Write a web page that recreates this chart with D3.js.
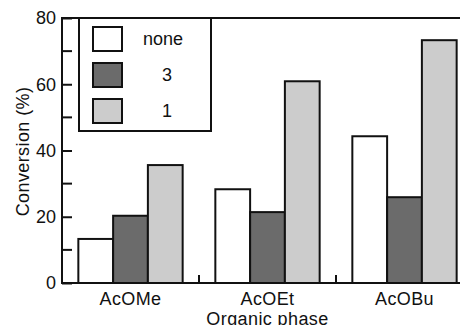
<!DOCTYPE html>
<html>
<head>
<meta charset="utf-8">
<script src="https://cdn.jsdelivr.net/npm/d3@7"></script>
<style>
  body { margin: 0; background: #fff; }
  svg { display: block; font-family: "Liberation Sans", Arial, sans-serif; }
</style>
</head>
<body>
<div id="chart"></div>
<script>
var phases = ["AcOMe", "AcOEt", "AcOBu"];
var seriesNames = ["none", "3", "1"];
var noneValues = [13.3, 28.3, 44.3];
var threeValues = [20.3, 21.4, 25.9];
var oneValues = [35.6, 60.9, 73.3];
var yTicks = [0, 20, 40, 60, 80];
var yMinorTicks = [10, 30, 50, 70];

var colors = {"none": "#ffffff", "3": "#6b6b6b", "1": "#cccccc"};
var values = {"none": noneValues, "3": threeValues, "1": oneValues};

var width = 460, height = 325;
var margin = {top: 18, right: -13, bottom: 42, left: 62};

var svg = d3.select("#chart").append("svg")
    .attr("width", width)
    .attr("height", height);

var x0 = d3.scaleBand()
    .domain(phases)
    .range([margin.left, width - margin.right])
    .paddingInner(0)
    .paddingOuter(0);

var x1 = d3.scaleBand()
    .domain(seriesNames)
    .range([0, x0.bandwidth()])
    .paddingInner(0)
    .paddingOuter(0.47);

var y = d3.scaleLinear()
    .domain([0, 80])
    .range([height - margin.bottom, margin.top]);

// bars
var rows = phases.map((p, i) => ({phase: p, vals: seriesNames.map(s => ({key: s, value: values[s][i]}))}));

svg.append("g")
  .selectAll("g")
  .data(rows)
  .join("g")
    .attr("transform", d => `translate(${x0(d.phase)},0)`)
  .selectAll("rect")
  .data(d => d.vals)
  .join("rect")
    .attr("x", d => x1(d.key))
    .attr("y", d => y(d.value))
    .attr("width", x1.bandwidth())
    .attr("height", d => y(0) - y(d.value))
    .attr("fill", d => colors[d.key])
    .attr("stroke", "#111")
    .attr("stroke-width", 2);

// frame
var frame = svg.append("g")
    .attr("fill", "none")
    .attr("stroke", "#111")
    .attr("stroke-width", 2);
frame.append("path")
    .attr("d", `M${margin.left},${margin.top}V${y(0)}H${width - margin.right}V${margin.top}Z`);

// left axis ticks (inside)
var yAxis = d3.axisLeft(y)
    .tickValues(yTicks)
    .tickSizeInner(-10)
    .tickSizeOuter(0)
    .tickPadding(6);
svg.append("g")
    .attr("transform", `translate(${margin.left},0)`)
    .call(yAxis)
    .call(g => g.select(".domain").remove())
    .call(g => g.selectAll("line").attr("stroke", "#111").attr("stroke-width", 2))
    .call(g => g.selectAll("text")
        .attr("fill", "#111")
        .style("font-size", "18px")
        .style("font-family", "'Liberation Sans', Arial, sans-serif"));

svg.append("g")
  .selectAll("line")
  .data(yMinorTicks)
  .join("line")
    .attr("x1", margin.left)
    .attr("x2", margin.left + 10)
    .attr("y1", d => y(d))
    .attr("y2", d => y(d))
    .attr("stroke", "#111")
    .attr("stroke-width", 2);

// bottom: category separator ticks
svg.append("g")
  .selectAll("line")
  .data(phases)
  .join("line")
    .attr("x1", d => x0(d) + x0.bandwidth())
    .attr("x2", d => x0(d) + x0.bandwidth())
    .attr("y1", y(0))
    .attr("y2", y(0) - 8)
    .attr("stroke", "#111")
    .attr("stroke-width", 2);

svg.append("g")
    .style("font-size", "18px")
    .attr("text-anchor", "middle")
    .attr("fill", "#111")
  .selectAll("text")
  .data(phases)
  .join("text")
    .attr("x", d => x0(d) + x0.bandwidth() / 2)
    .attr("y", 305)
    .attr("letter-spacing", 0.4)
    .text(d => d);

svg.append("text")
    .attr("x", x0("AcOEt") + x0.bandwidth() / 2)
    .attr("y", 325)
    .attr("text-anchor", "middle")
    .attr("fill", "#111")
    .attr("letter-spacing", 0.4)
    .style("font-size", "18px")
    .text("Organic phase");

svg.append("text")
    .attr("transform", `translate(29,${(margin.top + y(0)) / 2 + 1}) rotate(-90)`)
    .attr("text-anchor", "middle")
    .attr("fill", "#111")
    .attr("letter-spacing", 0.4)
    .style("font-size", "18px")
    .text("Conversion (%)");

// legend
var legend = svg.append("g");
legend.append("rect")
    .attr("x", 79)
    .attr("y", margin.top)
    .attr("width", 132)
    .attr("height", 113)
    .attr("fill", "#fff")
    .attr("stroke", "#111")
    .attr("stroke-width", 2);

var item = legend.selectAll("g.item")
  .data(seriesNames)
  .join("g")
    .attr("class", "item")
    .attr("transform", (d, i) => `translate(93,${27 + i * 36})`);

item.append("rect")
    .attr("width", 29)
    .attr("height", 24)
    .attr("fill", d => colors[d])
    .attr("stroke", "#111")
    .attr("stroke-width", 2);

item.append("text")
    .attr("x", (d, i) => i === 0 ? 70 : 74)
    .attr("y", 12)
    .attr("dy", "0.35em")
    .attr("text-anchor", "middle")
    .attr("fill", "#111")
    .style("font-size", "18px")
    .text(d => d);
</script>
</body>
</html>
